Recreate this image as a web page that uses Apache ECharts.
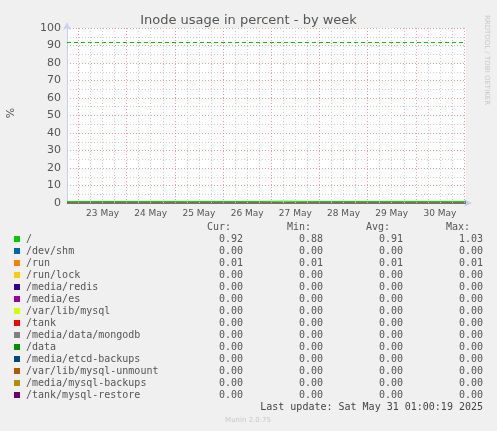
<!DOCTYPE html>
<html><head><meta charset="utf-8">
<script src="https://cdn.jsdelivr.net/npm/echarts@6/dist/echarts.min.js"></script>
<style>html,body{margin:0;padding:0;background:#f0f0f0}#c{width:497px;height:431px}</style>
</head><body><div id="c"></div>
<script>
// hours relative to 23 May 00:00
const dayLabels = ['23 May','24 May','25 May','26 May','27 May','28 May','29 May','30 May'];
const dayNoonHours = [12,36,60,84,108,132,156,180];
const xStart = -5.7, xEnd = 193;
const sampleHours = [-5.7,6,18,30,42,54,66,78,90,102,114,126,138,150,162,174,186,193];
const rootValues = [0.90,0.89,0.88,0.90,0.91,0.92,0.91,0.90,0.91,1.03,0.92,0.91,0.90,0.91,0.92,0.91,0.92,0.92];
const runValues = sampleHours.map(()=>0.01);
const zeroValues = sampleHours.map(()=>0);
const names = ['/','/dev/shm','/run','/run/lock','/media/redis','/media/es','/var/lib/mysql','/tank','/media/data/mongodb','/data','/media/etcd-backups','/var/lib/mysql-unmount','/media/mysql-backups','/tank/mysql-restore'];
const colors = ['#00cc00','#0066b3','#ff8000','#ffcc00','#330099','#990099','#ccff00','#ff0000','#808080','#008f00','#00487d','#b35a00','#b38f00','#6b006b'];
const curVals = ['0.92','0.00','0.01','0.00','0.00','0.00','0.00','0.00','0.00','0.00','0.00','0.00','0.00','0.00'];
const minVals = ['0.88','0.00','0.01','0.00','0.00','0.00','0.00','0.00','0.00','0.00','0.00','0.00','0.00','0.00'];
const avgVals = ['0.91','0.00','0.01','0.00','0.00','0.00','0.00','0.00','0.00','0.00','0.00','0.00','0.00','0.00'];
const maxVals = ['1.03','0.00','0.01','0.00','0.00','0.00','0.00','0.00','0.00','0.00','0.00','0.00','0.00','0.00'];
const warningLevel = 92;

const majorX=[], minorX=[];
for(let h=0; h<=192; h+=6){ (h%24===0?majorX:minorX).push(h); }

const mono = 'DejaVu Sans Mono';
const series = [];
names.slice().reverse().forEach((n,ri)=>{
  const i = names.length-1-ri;
  const vals = i===0?rootValues:(i===2?runValues:zeroValues);
  series.push({name:n,type:'line',symbol:'none',animation:false,silent:true,
    data: sampleHours.map((h,k)=>[h,vals[k]]),
    lineStyle:{color:colors[i],width:1}});
});
series.push({type:'line',data:[],silent:true,animation:false,
  markLine:{symbol:'none',silent:true,animation:false,label:{show:false},
    data:[
      ...minorX.map(x=>({xAxis:x,lineStyle:{color:'#d0d0d0',type:[1,2],width:1}})),
      ...majorX.map(x=>({xAxis:x,lineStyle:{color:'#f0a0a0',type:[1,2],width:1}})),
      {yAxis:warningLevel,lineStyle:{color:'#00cc00',type:[4,3],width:1}}
    ]}});

const g = [];
const top0=227, row=12;
[['Cur:',231],['Min:',311],['Avg:',390],['Max:',470]].forEach(([t,x])=>g.push({type:'text',x:x,y:top0,style:{text:t,font:'10px '+mono,fill:'#555',align:'right',verticalAlign:'middle'}}));
names.forEach((n,i)=>{
  const y = top0+row*(i+1);
  g.push({type:'rect',shape:{x:14,y:y-3,width:6,height:6},style:{fill:colors[i]}});
  g.push({type:'text',x:26,y:y,style:{text:n,font:'10px '+mono,fill:'#555',verticalAlign:'middle'}});
  [[curVals,243],[minVals,323],[avgVals,403],[maxVals,483]].forEach(([a,x])=>
    g.push({type:'text',x:x,y:y,style:{text:a[i],font:'10px '+mono,fill:'#555',align:'right',verticalAlign:'middle'}}));
});
g.push({type:'text',x:483,y:407,style:{text:'Last update: Sat May 31 01:00:19 2025',font:'10px '+mono,fill:'#444',align:'right',verticalAlign:'middle'}});
g.push({type:'text',x:248,y:420,style:{text:'Munin 2.0.75',font:'7px DejaVu Sans',fill:'#c8c8c8',align:'center',verticalAlign:'middle'}});
g.push({type:'text',x:487,y:60,rotation:-Math.PI/2,style:{text:'RRDTOOL / TOBI OETIKER',font:'7px DejaVu Sans',fill:'#c8c8c8',align:'center',verticalAlign:'middle'}});
g.push({type:'text',x:11,y:113,rotation:Math.PI/2,style:{text:'%',font:'11px DejaVu Sans',fill:'#555',align:'center',verticalAlign:'middle'}});

const chart = echarts.init(document.getElementById('c'),null,{renderer:'canvas'});
chart.setOption({
  backgroundColor:'#f0f0f0', animation:false,
  title:{text:'Inode usage in percent - by week',left:'center',top:9,textStyle:{fontFamily:'DejaVu Sans',fontSize:13,fontWeight:'normal',color:'#555'}},
  grid:{left:67,right:31,top:28,bottom:228,backgroundColor:'#fff',show:true,borderWidth:0},
  xAxis:{type:'value',min:xStart,max:xEnd,
    axisLine:{onZero:false,lineStyle:{color:'#c8d0f8'},symbol:['none','arrow'],symbolSize:[6,8],symbolOffset:[0,6]},
    axisTick:{show:false},splitLine:{show:false},
    axisLabel:{customValues:dayNoonHours,formatter:v=>dayLabels[dayNoonHours.indexOf(v)]||'',
      fontFamily:'DejaVu Sans',fontSize:9,color:'#555',margin:6}},
  yAxis:{type:'value',min:0,max:100,interval:10,
    axisLine:{show:true,onZero:false,lineStyle:{color:'#c8d0f8'},symbol:['none','arrow'],symbolSize:[6,8],symbolOffset:[0,6]},
    axisTick:{show:false},
    axisLabel:{fontFamily:'DejaVu Sans',fontSize:11,color:'#555',margin:6},
    splitLine:{lineStyle:{color:'#f0a0a0',type:[1,2]}},
    minorTick:{show:false,splitNumber:2},
    minorSplitLine:{show:true,lineStyle:{color:'#d0d0d0',type:[1,2]}}},
  series:series,
  graphic:g
});
</script></body></html>
